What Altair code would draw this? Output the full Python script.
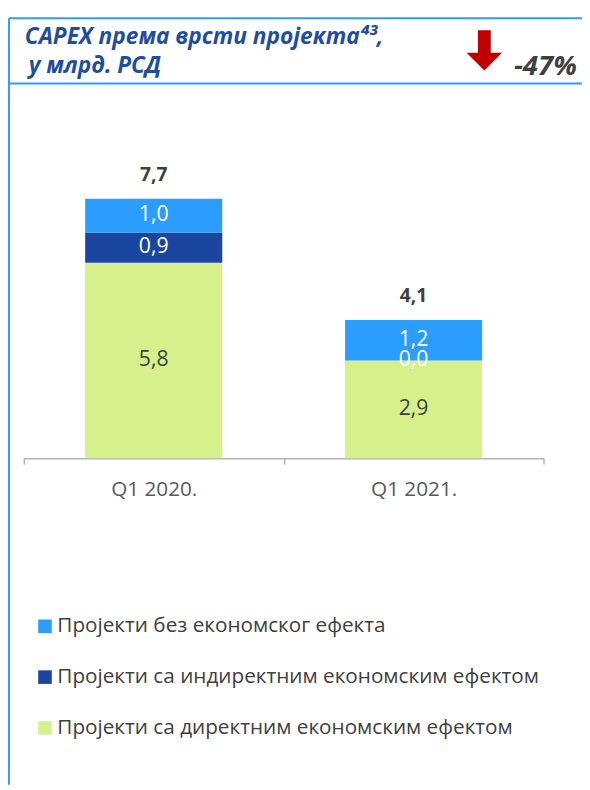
import altair as alt
import pandas as pd

# ---- data ----
categories = ["Q1 2020.", "Q1 2021."]
series_names = [
    "Пројекти без економског ефекта",
    "Пројекти са индиректним економским ефектом",
    "Пројекти са директним економским ефектом",
]
series_colors = ["#2A9DFE", "#1A46A0", "#D6F08C"]
label_colors = ["#FFFFFF", "#FFFFFF", "#404040"]
vals_none = [1.0, 1.2]
vals_indirect = [0.9, 0.0]
vals_direct = [5.8, 2.9]
totals = [7.7, 4.1]
title_line1 = "CAPEX према врсти пројекта⁴³,"
title_line2 = " у млрд. РСД"
change_text = "-47%"

FONT = "Open Sans"

# ---- build tables ----
rows = []
stack_series = [  # bottom to top
    (series_names[2], vals_direct, label_colors[2], 0),
    (series_names[1], vals_indirect, label_colors[1], 1),
    (series_names[0], vals_none, label_colors[0], 2),
]
for ci, cat in enumerate(categories):
    base = 0.0
    for name, vals, lc, order in stack_series:
        v = vals[ci]
        rows.append({
            "cat": cat, "series": name, "value": v, "order": order,
            "mid": base + v / 2, "label": f"{v:.1f}".replace(".", ","),
            "lc": lc,
        })
        base += v
df = pd.DataFrame(rows)
tot = pd.DataFrame({"cat": categories, "total": totals,
                    "label": [f"{t:.1f}".replace(".", ",") for t in totals]})
one = pd.DataFrame({"a": [0]})

W, H = 582, 782
xscale = alt.Scale(domain=categories, range=[16, 543], paddingInner=0, paddingOuter=0)
yscale = alt.Scale(domain=[-9.69, 13.20], nice=False, zero=False)

bars = alt.Chart(df).mark_bar(size=139).encode(
    x=alt.X("cat:N", scale=xscale, sort=categories,
            axis=alt.Axis(orient="bottom", offset=-331, title=None, labelAngle=0,
                          domainColor="#B4B4B4", domainWidth=1.5,
                          tickColor="#B4B4B4", tickWidth=1.5, tickSize=6,
                          tickBand="extent", grid=False,
                          labelFont=FONT, labelFontSize=21, labelColor="#595959",
                          labelPadding=15)),
    y=alt.Y("value:Q", stack="zero", scale=yscale, axis=None),
    color=alt.Color("series:N",
                    scale=alt.Scale(domain=series_names, range=series_colors),
                    legend=alt.Legend(orient="none", legendX=27, legendY=611,
                                      title=None, symbolType="square",
                                      symbolSize=190, symbolStrokeWidth=0,
                                      labelFont=FONT, labelFontSize=21,
                                      labelColor="#404040", labelLimit=700,
                                      labelOffset=2, rowPadding=29.5, padding=0)),
    order=alt.Order("order:Q"),
)

seg_text = alt.Chart(df).mark_text(font=FONT, fontSize=21.5, baseline="middle").encode(
    x=alt.X("cat:N", scale=xscale, sort=categories),
    y=alt.Y("mid:Q", scale=yscale),
    text="label:N",
    color=alt.Color("lc:N", scale=None),
)

tot_text = alt.Chart(tot).mark_text(font=FONT, fontSize=19.5, fontWeight="bold",
                                    color="#404040", baseline="middle", dy=-24).encode(
    x=alt.X("cat:N", scale=xscale, sort=categories),
    y=alt.Y("total:Q", scale=yscale),
    text="label:N",
)

BORDER = "#2E9BFF"
top_line = alt.Chart(one).mark_rule(color=BORDER, strokeWidth=2).encode(
    x=alt.value(1), x2=alt.value(W), y=alt.value(5))
hdr_line = alt.Chart(one).mark_rule(color=BORDER, strokeWidth=2).encode(
    x=alt.value(1), x2=alt.value(W), y=alt.value(71))
left_line = alt.Chart(one).mark_rule(color=BORDER, strokeWidth=2).encode(
    x=alt.value(1), y=alt.value(5), y2=alt.value(H))

t1 = alt.Chart(one).mark_text(text=title_line1, font=FONT, fontSize=23, fontStyle="italic",
                              fontWeight="bold", color="#1F4E9E", align="left",
                              baseline="alphabetic").encode(x=alt.value(17), y=alt.value(31))
t2 = alt.Chart(one).mark_text(text=title_line2, font=FONT, fontSize=23, fontStyle="italic",
                              fontWeight="bold", color="#1F4E9E", align="left",
                              baseline="alphabetic").encode(x=alt.value(21), y=alt.value(60))
chg = alt.Chart(one).mark_text(text=change_text, font=FONT, fontSize=28, fontStyle="italic",
                               fontWeight="bold", color="#404040", align="left",
                               baseline="alphabetic").encode(x=alt.value(513), y=alt.value(62))
arrow_path = "M -0.317 -1 L 0.317 -1 L 0.317 0.122 L 0.878 0.122 L 0 1 L -0.878 0.122 L -0.317 0.122 Z"
arrow = alt.Chart(one).mark_point(shape=arrow_path, filled=True, color="#C00000",
                                  opacity=1, size=1681, strokeWidth=0).encode(
    x=alt.value(483), y=alt.value(37.5))

chart = alt.layer(bars, seg_text, tot_text, top_line, hdr_line, left_line,
                  t1, t2, chg, arrow).properties(
    width=W, height=H, padding=0, autosize=alt.AutoSizeParams(type="none"),
    background="white",
).configure_view(stroke=None)

chart.save("out.html", embed_options={"renderer": "svg", "actions": False})
